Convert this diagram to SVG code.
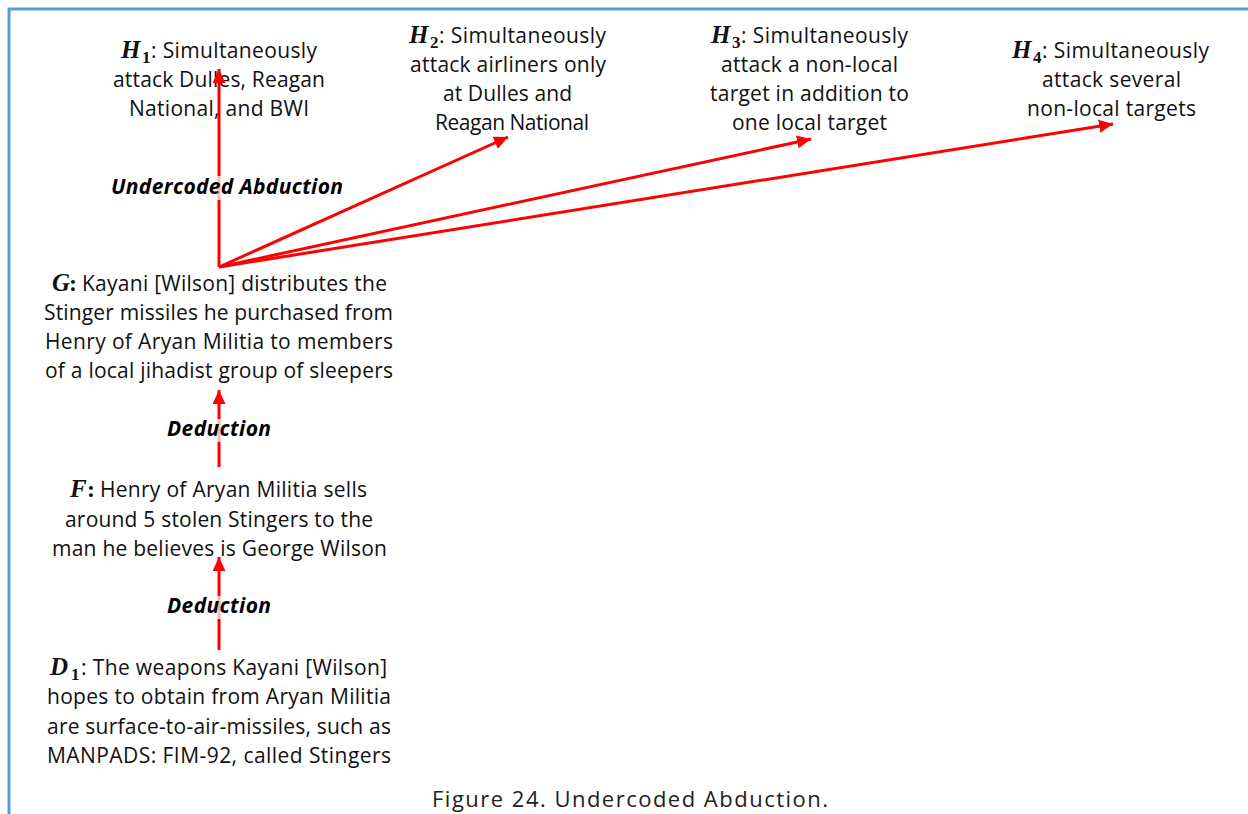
<svg xmlns="http://www.w3.org/2000/svg" width="1248" height="814" viewBox="0 0 1248 814">
  <defs>
    <marker id="head" markerUnits="userSpaceOnUse" markerWidth="16" markerHeight="14" refX="14" refY="6.5" orient="auto">
      <path d="M0,0 L14,6.5 L0,13 z" fill="#ff0000"/>
    </marker>
    <style>
      .t { font-family: "Open Sans", "Liberation Sans", sans-serif; font-size: 21px; fill: #111; }
      .m { font-family: "Liberation Serif", "DejaVu Serif", serif; font-weight: bold; font-style: italic; font-size: 25px; fill: #111; }
      .s { font-family: "Liberation Serif", "DejaVu Serif", serif; font-weight: bold; font-size: 17px; fill: #111; }
      .c { font-family: "Liberation Serif", "DejaVu Serif", serif; font-weight: bold; font-size: 24px; fill: #111; }
      .lbl { font-family: "Open Sans", "Liberation Sans", sans-serif; font-size: 21px; font-weight: bold; font-style: italic; fill: #000; }
      .edge { stroke: #ff0000; stroke-width: 3; fill: none; marker-end: url(#head); }
      .veil { fill: #ffffff; fill-opacity: 0.72; }
      .frame { stroke: #5b9bd5; stroke-width: 3; fill: none; }
      .cap { font-family: "Open Sans", "Liberation Sans", sans-serif; font-size: 22px; fill: #222; }
    </style>
  </defs>

  <rect width="1248" height="814" fill="#ffffff"/>

  <!-- frame: top and left rules -->
  <path class="frame" d="M9,814 L9,9 L1248,9"/>

  <!-- hypothesis H1 -->
  <g id="H1">
    <text class="m" x="121" y="58">H</text>
    <text class="s" x="142" y="63">1</text>
    <text class="t" x="151" y="58" textLength="166">: Simultaneously</text>
    <text class="t" x="113" y="87" textLength="212">attack Dulles, Reagan</text>
    <text class="t" x="129" y="116" textLength="180">National, and BWI</text>
  </g>

  <!-- hypothesis H2 -->
  <g id="H2">
    <text class="m" x="409" y="43">H</text>
    <text class="s" x="430" y="48">2</text>
    <text class="t" x="439" y="43" textLength="167">: Simultaneously</text>
    <text class="t" x="410" y="72" textLength="196">attack airliners only</text>
    <text class="t" x="443" y="101" textLength="129">at Dulles and</text>
    <text class="t" x="435" y="130" textLength="154">Reagan National</text>
  </g>

  <!-- hypothesis H3 -->
  <g id="H3">
    <text class="m" x="711" y="43">H</text>
    <text class="s" x="732" y="48">3</text>
    <text class="t" x="741" y="43" textLength="167">: Simultaneously</text>
    <text class="t" x="721" y="72" textLength="177">attack a non-local</text>
    <text class="t" x="710" y="101" textLength="199">target in addition to</text>
    <text class="t" x="732" y="130" textLength="155">one local target</text>
  </g>

  <!-- hypothesis H4 -->
  <g id="H4">
    <text class="m" x="1012" y="58">H</text>
    <text class="s" x="1033" y="63">4</text>
    <text class="t" x="1042" y="58" textLength="167">: Simultaneously</text>
    <text class="t" x="1042" y="87" textLength="139">attack several</text>
    <text class="t" x="1027" y="116" textLength="169">non-local targets</text>
  </g>

  <!-- G -->
  <g id="G">
    <text class="m" x="52" y="291">G</text>
    <text class="c" x="69" y="291">:</text>
    <text class="t" x="82" y="291" textLength="305">Kayani [Wilson] distributes the</text>
    <text class="t" x="44" y="320" textLength="349">Stinger missiles he purchased from</text>
    <text class="t" x="45" y="349" textLength="348">Henry of Aryan Militia to members</text>
    <text class="t" x="45" y="378" textLength="348">of a local jihadist group of sleepers</text>
  </g>

  <!-- F -->
  <g id="F">
    <text class="m" x="70" y="497">F</text>
    <text class="c" x="87" y="497">:</text>
    <text class="t" x="100" y="497" textLength="267">Henry of Aryan Militia sells</text>
    <text class="t" x="65" y="527" textLength="308">around 5 stolen Stingers to the</text>
    <text class="t" x="52" y="556" textLength="335">man he believes is George Wilson</text>
  </g>

  <!-- D1 -->
  <g id="D1">
    <text class="m" x="50" y="675">D</text>
    <text class="s" x="71" y="680">1</text>
    <text class="t" x="81" y="675" textLength="306">: The weapons Kayani [Wilson]</text>
    <text class="t" x="47" y="704" textLength="344">hopes to obtain from Aryan Militia</text>
    <text class="t" x="47" y="734" textLength="344">are surface-to-air-missiles, such as</text>
    <text class="t" x="47" y="763" textLength="344">MANPADS: FIM-92, called Stingers</text>
  </g>

  <!-- connectors -->
  <g id="edges">
    <path class="edge" d="M219,267 L219,69"/>
    <path class="edge" d="M219,267 L508,137"/>
    <path class="edge" d="M219,267 L811,139"/>
    <path class="edge" d="M219,267 L1113,124"/>
    <path class="edge" d="M219,467 L219,390"/>
    <path class="edge" d="M219,650 L219,557"/>
  </g>

  <!-- inference labels -->
  <g id="labels">
    <rect class="veil" x="110" y="176" width="234" height="24"/>
    <text class="lbl" x="111" y="194" textLength="232">Undercoded Abduction</text>
    <rect class="veil" x="166" y="419" width="106" height="23"/>
    <text class="lbl" x="167" y="436" textLength="104">Deduction</text>
    <rect class="veil" x="166" y="596" width="106" height="23"/>
    <text class="lbl" x="167" y="613" textLength="104">Deduction</text>
  </g>

  <!-- caption -->
  <text class="cap" x="432" y="807" textLength="396">Figure 24. Undercoded Abduction.</text>
</svg>
